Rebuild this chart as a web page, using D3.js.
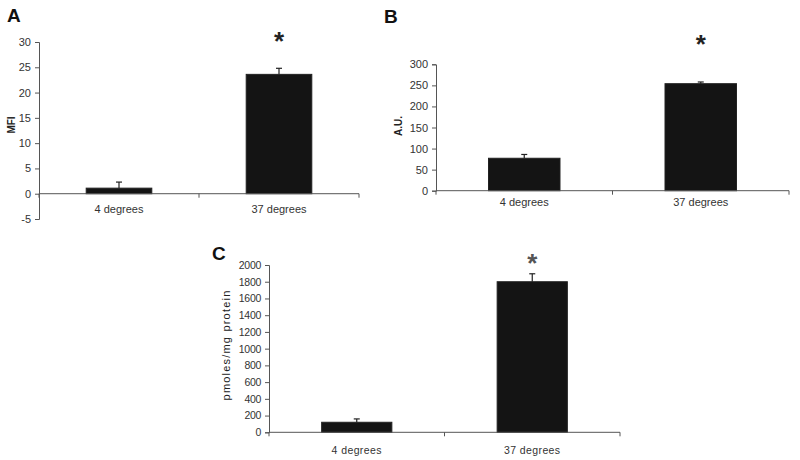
<!DOCTYPE html>
<html>
<head>
<meta charset="utf-8">
<script src="https://cdn.jsdelivr.net/npm/d3@7"></script>
<style>
body { margin: 0; background: #fff; }
svg text { font-family: "Liberation Sans", Arial, sans-serif; }
</style>
</head>
<body>
<svg id="chart" width="800" height="460"></svg>
<script>
// data
var categories = ["4 degrees", "37 degrees"];

var mfiValues = [1.1, 23.6];
var mfiErrors = [1.2, 1.2];
var mfiTicks = [-5, 0, 5, 10, 15, 20, 25, 30];

var auValues = [77, 254];
var auErrors = [9, 4];
var auTicks = [0, 50, 100, 150, 200, 250, 300];

var pmolValues = [120, 1800];
var pmolErrors = [40, 95];
var pmolTicks = [0, 200, 400, 600, 800, 1000, 1200, 1400, 1600, 1800, 2000];

var svg = d3.select("#chart");

function drawPanel(p) {
	var g = svg.append("g");

	var x = d3.scaleBand().domain(categories)
		.range([p.x0, p.x1]).paddingInner(p.pad).paddingOuter(p.pad / 2);
	var y = d3.scaleLinear().domain(p.domain).range([p.yBottom, p.yTop]);

	// y axis
	var yAxis = d3.axisLeft(y).tickValues(p.ticks).tickSize(4).tickPadding(4).tickFormat(String);
	var ya = g.append("g").attr("transform", "translate(" + p.x0 + ",0)").call(yAxis);
	ya.select(".domain").attr("stroke", "#555");
	ya.selectAll(".tick line").attr("stroke", "#555");
	ya.selectAll(".tick text").attr("fill", "#333").attr("font-size", p.tickSize)
		.attr("letter-spacing", p.spacing || 0);

	// bars
	g.selectAll("rect.bar").data(p.values).enter().append("rect")
		.attr("class", "bar")
		.attr("x", function (d, i) { return x(categories[i]); })
		.attr("width", x.bandwidth())
		.attr("y", function (d) { return y(d); })
		.attr("height", function (d) { return y(0) - y(d); })
		.attr("fill", "#141414")
		.attr("stroke", "#222");

	// error bars (upper)
	p.values.forEach(function (v, i) {
		var cx = x(categories[i]) + x.bandwidth() / 2;
		g.append("line").attr("x1", cx).attr("x2", cx)
			.attr("y1", y(v)).attr("y2", y(v + p.errors[i]))
			.attr("stroke", "#222").attr("stroke-width", 1.2);
		g.append("line").attr("x1", cx - 3).attr("x2", cx + 3)
			.attr("y1", y(v + p.errors[i])).attr("y2", y(v + p.errors[i]))
			.attr("stroke", "#222").attr("stroke-width", 1.2);
	});

	// x axis line with ticks at band edges
	var y0 = y(0);
	g.append("line").attr("x1", p.x0).attr("x2", p.x1).attr("y1", y0).attr("y2", y0)
		.attr("stroke", "#555");
	var step = (p.x1 - p.x0) / categories.length;
	d3.range(categories.length + 1).forEach(function (k) {
		g.append("line").attr("x1", p.x0 + k * step).attr("x2", p.x0 + k * step)
			.attr("y1", y0).attr("y2", y0 + 4).attr("stroke", "#555");
	});

	// category labels
	categories.forEach(function (c) {
		g.append("text").attr("x", x(c) + x.bandwidth() / 2).attr("y", p.catY)
			.attr("text-anchor", "middle").attr("font-size", p.tickSize)
			.attr("letter-spacing", p.catSpacing || 0)
			.attr("fill", "#333").text(c);
	});

	// significance star
	g.append("text").attr("x", x(categories[1]) + x.bandwidth() / 2).attr("y", p.starY)
		.attr("text-anchor", "middle").attr("font-size", 26).attr("font-weight", "bold")
		.attr("fill", p.starColor || "#222").text("*");

	// y label
	g.append("text").attr("transform", "translate(" + p.labelX + "," + p.labelY + ") rotate(-90)")
		.attr("text-anchor", "middle").attr("dominant-baseline", "central")
		.attr("font-size", p.labelSize).attr("font-weight", p.labelWeight)
		.attr("letter-spacing", p.labelSpacing || 0)
		.attr("fill", "#222").text(p.label);

	// panel letter
	g.append("text").attr("x", p.letterX).attr("y", p.letterY)
		.attr("font-size", 19).attr("font-weight", "bold").attr("fill", "#111")
		.text(p.letter);
}

drawPanel({
	letter: "A", letterX: 7, letterY: 22,
	x0: 39, x1: 359, pad: 0.59,
	domain: [-5, 30], yBottom: 219, yTop: 42, ticks: mfiTicks,
	values: mfiValues, errors: mfiErrors,
	tickSize: 11, catY: 213, starY: 50,
	label: "MFI", labelX: 11, labelY: 125, labelSize: 10, labelWeight: "bold"
});

drawPanel({
	letter: "B", letterX: 384, letterY: 23,
	x0: 436, x1: 789, pad: 0.595,
	domain: [0, 300], yBottom: 190.7, yTop: 64.3, ticks: auTicks,
	values: auValues, errors: auErrors,
	tickSize: 11, catY: 206, starY: 53,
	label: "A.U.", labelX: 398, labelY: 126, labelSize: 10, labelWeight: "bold"
});

drawPanel({
	letter: "C", letterX: 212, letterY: 260,
	x0: 269, x1: 620, pad: 0.6,
	domain: [0, 2000], yBottom: 432.3, yTop: 265, ticks: pmolTicks,
	values: pmolValues, errors: pmolErrors,
	tickSize: 10.5, spacing: -0.3, catSpacing: 0.4, catY: 454, starY: 272, starColor: "#555",
	label: "pmoles/mg protein", labelX: 226, labelY: 345, labelSize: 11, labelSpacing: 1.2, labelWeight: "normal"
});
</script>
</body>
</html>
